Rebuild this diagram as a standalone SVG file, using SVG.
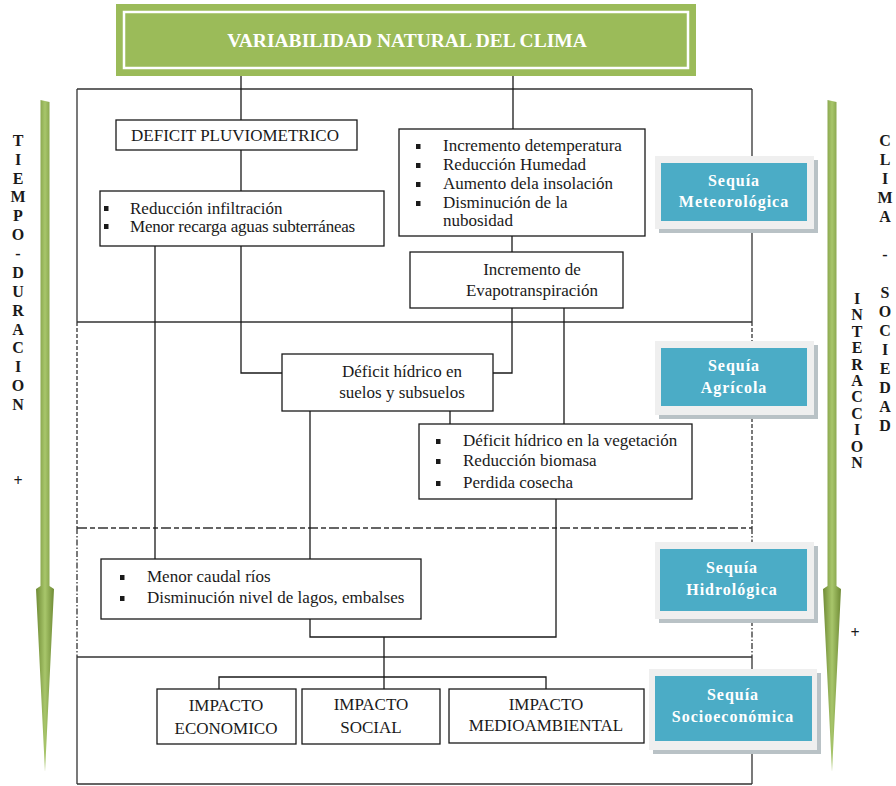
<svg xmlns="http://www.w3.org/2000/svg" width="896" height="786" viewBox="0 0 896 786">
<defs>
<linearGradient id="arrowGrad" x1="0" y1="0" x2="1" y2="0">
<stop offset="0" stop-color="#6F8B35"/>
<stop offset="0.5" stop-color="#A8C66B"/>
<stop offset="1" stop-color="#6F8B35"/>
</linearGradient>
<style>
.box{fill:#fff;stroke:#1a1a1a;stroke-width:1.3}
.t{font-family:"Liberation Serif","Times New Roman",serif;font-size:17px;fill:#1a1a1a}
.imp{font-family:"Liberation Serif","Times New Roman",serif;font-size:17px;fill:#1a1a1a;text-anchor:middle}
.c{text-anchor:middle}
.ln{stroke:#1a1a1a;stroke-width:1.3;fill:none}
.fr{stroke:#333;stroke-width:1.3;fill:none}
.teal{fill:#4BACC6}
.tframe{fill:#EFEFEF}
.tshadow{fill:#B9C2C6}
.st{font-family:"Liberation Serif","Times New Roman",serif;font-size:16px;font-weight:bold;fill:#fff;text-anchor:middle;letter-spacing:1px}
.side{font-family:"Liberation Serif","Times New Roman",serif;font-size:16px;font-weight:bold;fill:#1a1a1a;text-anchor:middle}
.bul{fill:#1a1a1a}
.arrow{fill:url(#arrowGrad)}
</style>
</defs>

<!-- side arrows -->
<g id="arrow_left">
<path class="arrow" d="M40.5,100 L49.5,102 L49.5,586 L54,589 L45,772 L36,589 L40.5,586 Z"/>
</g>
<g id="arrow_right">
<path class="arrow" d="M827.5,100 L836.5,102 L836.5,586 L841,589 L832,772 L823,589 L827.5,586 Z"/>
</g>

<!-- side labels -->
<g id="label_tiempo">
<text class="side"><tspan x="18" y="146">T</tspan><tspan x="18" y="165">I</tspan><tspan x="18" y="184">E</tspan><tspan x="18" y="202">M</tspan><tspan x="18" y="221">P</tspan><tspan x="18" y="240">O</tspan><tspan x="18" y="259">-</tspan><tspan x="18" y="278">D</tspan><tspan x="18" y="297">U</tspan><tspan x="18" y="316">R</tspan><tspan x="18" y="335">A</tspan><tspan x="18" y="353">C</tspan><tspan x="18" y="372">I</tspan><tspan x="18" y="391">O</tspan><tspan x="18" y="410">N</tspan></text>
<text class="side" x="18" y="486">+</text>
</g>
<g id="label_clima">
<text class="side"><tspan x="885" y="146">C</tspan><tspan x="885" y="165">L</tspan><tspan x="885" y="184">I</tspan><tspan x="885" y="203">M</tspan><tspan x="885" y="222">A</tspan><tspan x="885" y="260">-</tspan><tspan x="885" y="298">S</tspan><tspan x="885" y="317">O</tspan><tspan x="885" y="336">C</tspan><tspan x="885" y="355">I</tspan><tspan x="885" y="374">E</tspan><tspan x="885" y="393">D</tspan><tspan x="885" y="412">A</tspan><tspan x="885" y="431">D</tspan></text>
</g>
<g id="label_interaccion">
<text class="side"><tspan x="857" y="304">I</tspan><tspan x="857" y="320">N</tspan><tspan x="857" y="337">T</tspan><tspan x="857" y="353">E</tspan><tspan x="857" y="370">R</tspan><tspan x="857" y="386">A</tspan><tspan x="857" y="402">C</tspan><tspan x="857" y="419">C</tspan><tspan x="857" y="435">I</tspan><tspan x="857" y="452">O</tspan><tspan x="857" y="468">N</tspan></text>
<text class="side" x="855" y="638">+</text>
</g>

<!-- frame -->
<g id="frame">
<path class="fr" d="M77,89 H752 M77,89 V322 M752,89 V322 M77,322 H752"/>
<path class="fr" d="M77,322 V528 M752,322 V528" stroke-dasharray="4 2"/>
<path class="fr" d="M77,528 H752" stroke-dasharray="10 3 5 3"/>
<path class="fr" d="M77,528 V657 M752,528 V657" stroke-dasharray="6 2 1.5 2"/>
<path class="fr" d="M77,657 H752 M77,657 V784 M752,657 V784 M77,784 H752"/>
</g>

<!-- connectors -->
<g id="connectors">
<path class="ln" d="M241,76 V120"/>
<path class="ln" d="M513,76 V129"/>
<path class="ln" d="M241,150 V191"/>
<path class="ln" d="M241,246 V373 H282"/>
<path class="ln" d="M155,246 V559"/>
<path class="ln" d="M512,214 V252"/>
<path class="ln" d="M512,308 V373 H493"/>
<path class="ln" d="M564,308 V424"/>
<path class="ln" d="M310,411 V559"/>
<path class="ln" d="M450,411 V424"/>
<path class="ln" d="M310,619 V637 H556 V499"/>
<path class="ln" d="M384,637 V689"/>
<path class="ln" d="M219,689 V677 H546 V689"/>
</g>

<!-- title -->
<g id="title">
<rect x="116" y="4" width="580" height="72" fill="#9BBB59"/>
<rect x="124" y="12" width="564" height="56" fill="none" stroke="#fff" stroke-width="2.5"/>
<text x="407" y="47" font-family="'Liberation Serif','Times New Roman',serif" font-size="19.5" font-weight="bold" fill="#fff" text-anchor="middle">VARIABILIDAD NATURAL DEL CLIMA</text>
</g>

<g id="deficit_pluviometrico">
<rect class="box" x="116" y="120" width="241" height="30"/>
<text class="t c" x="235" y="141">DEFICIT PLUVIOMETRICO</text>
</g>

<g id="reduccion_infiltracion">
<rect class="box" x="100" y="191" width="284" height="55"/>
<rect class="bul" x="104" y="206" width="4.5" height="5"/>
<rect class="bul" x="104" y="224" width="4.5" height="5"/>
<text class="t" x="130" y="214">Reducción infiltración</text>
<text class="t" x="130" y="232" letter-spacing="-0.2">Menor recarga aguas subterráneas</text>
</g>

<g id="incremento_temperatura">
<rect class="box" x="399" y="129" width="246" height="107"/>
<rect class="bul" x="416" y="144" width="4.5" height="5"/>
<rect class="bul" x="416" y="163" width="4.5" height="5"/>
<rect class="bul" x="416" y="182" width="4.5" height="5"/>
<rect class="bul" x="416" y="201" width="4.5" height="5"/>
<text class="t" x="443" y="151">Incremento detemperatura</text>
<text class="t" x="443" y="170">Reducción Humedad</text>
<text class="t" x="443" y="189">Aumento dela insolación</text>
<text class="t" x="443" y="208">Disminución de la</text>
<text class="t" x="443" y="226">nubosidad</text>
</g>

<g id="evapotranspiracion">
<rect class="box" x="410" y="252" width="213" height="56"/>
<text class="t c" x="532" y="275">Incremento de</text>
<text class="t c" x="532" y="296">Evapotranspiración</text>
</g>

<g id="deficit_suelos">
<rect class="box" x="282" y="354" width="211" height="57"/>
<text class="t c" x="402" y="377">Déficit hídrico en</text>
<text class="t c" x="402" y="398">suelos y subsuelos</text>
</g>

<g id="deficit_vegetacion">
<rect class="box" x="419" y="424" width="273" height="75"/>
<rect class="bul" x="436" y="439" width="4.5" height="5"/>
<rect class="bul" x="436" y="459" width="4.5" height="5"/>
<rect class="bul" x="436" y="481" width="4.5" height="5"/>
<text class="t" x="463" y="446">Déficit hídrico en la vegetación</text>
<text class="t" x="463" y="466">Reducción biomasa</text>
<text class="t" x="463" y="488">Perdida cosecha</text>
</g>

<g id="menor_caudal">
<rect class="box" x="101" y="559" width="320" height="60"/>
<rect class="bul" x="120" y="575" width="4.5" height="5"/>
<rect class="bul" x="120" y="596" width="4.5" height="5"/>
<text class="t" x="147" y="582">Menor caudal ríos</text>
<text class="t" x="147" y="603">Disminución nivel de lagos, embalses</text>
</g>

<g id="impacto_economico">
<rect class="box" x="157" y="689" width="139" height="55"/>
<text class="imp" x="226" y="711">IMPACTO</text>
<text class="imp" x="226" y="734">ECONOMICO</text>
</g>
<g id="impacto_social">
<rect class="box" x="302" y="689" width="138" height="55"/>
<text class="imp" x="371" y="710">IMPACTO</text>
<text class="imp" x="371" y="733">SOCIAL</text>
</g>
<g id="impacto_medioambiental">
<rect class="box" x="449" y="689" width="195" height="54"/>
<text class="imp" x="546" y="710">IMPACTO</text>
<text class="imp" x="546" y="731">MEDIOAMBIENTAL</text>
</g>

<!-- sequia labels -->
<g id="sequia_meteorologica">
<rect class="tshadow" x="659" y="160" width="159" height="73"/>
<rect class="tframe" x="655" y="156" width="159" height="73"/>
<rect class="teal" x="661" y="163" width="146" height="58"/>
<text class="st" x="734" y="186">Sequía</text>
<text class="st" x="734" y="207">Meteorológica</text>
</g>
<g id="sequia_agricola">
<rect class="tshadow" x="659" y="345" width="159" height="74"/>
<rect class="tframe" x="655" y="341" width="159" height="74"/>
<rect class="teal" x="661" y="348" width="146" height="58"/>
<text class="st" x="734" y="371">Sequía</text>
<text class="st" x="734" y="393">Agrícola</text>
</g>
<g id="sequia_hidrologica">
<rect class="tshadow" x="659" y="546" width="159" height="77"/>
<rect class="tframe" x="655" y="542" width="159" height="77"/>
<rect class="teal" x="660" y="549" width="147" height="62"/>
<text class="st" x="732" y="573">Sequía</text>
<text class="st" x="732" y="595">Hidrológica</text>
</g>
<g id="sequia_socioeconomica">
<rect class="tshadow" x="653" y="673" width="168" height="81"/>
<rect class="tframe" x="649" y="669" width="168" height="81"/>
<rect class="teal" x="655" y="676" width="157" height="65"/>
<text class="st" x="733" y="700">Sequía</text>
<text class="st" x="733" y="722">Socioeconómica</text>
</g>
</svg>
